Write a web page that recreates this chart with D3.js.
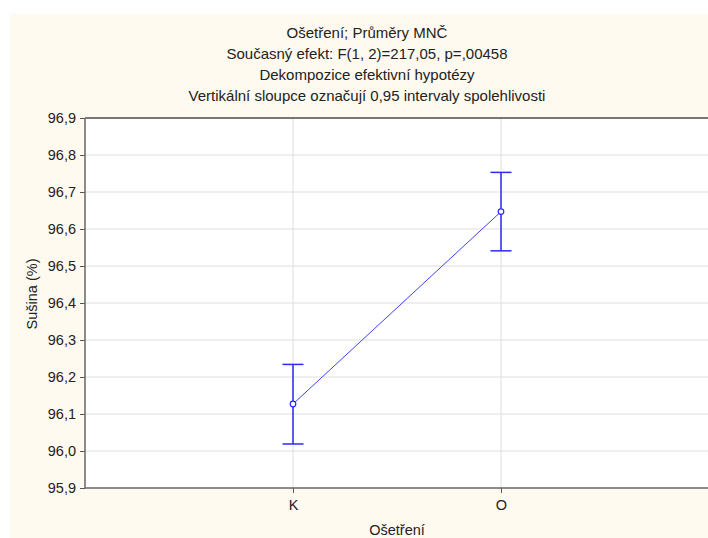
<!DOCTYPE html>
<html><head><meta charset="utf-8">
<script src="https://cdn.jsdelivr.net/npm/d3@7"></script>
<style>body{margin:0;background:#fff}svg{display:block}text{font-family:"Liberation Sans",Arial,sans-serif;fill:#222}</style>
</head><body><svg id="c" width="708" height="538"></svg>
<script>
const categories = ["K", "O"];
const means = [96.127, 96.647];
const ciLow = [96.019, 96.541];
const ciHigh = [96.234, 96.753];
const yTicks = [95.9, 96.0, 96.1, 96.2, 96.3, 96.4, 96.5, 96.6, 96.7, 96.8, 96.9];
const titles = ["Ošetření; Průměry MNČ", "Současný efekt: F(1, 2)=217,05, p=,00458", "Dekompozice efektivní hypotézy", "Vertikální sloupce označují 0,95 intervaly spolehlivosti"];
const xLabel = "Ošetření";
const yLabel = "Sušina (%)";

const svg = d3.select("#c");
const L = 85, R = 709, T = 118, B = 488;
const FS = 14.5;
svg.append("rect").attr("x",10).attr("y",14).attr("width",698).attr("height",524).attr("fill","#fffaef");
svg.append("rect").attr("x",L).attr("y",T).attr("width",R-L).attr("height",B-T).attr("fill","#fff");

const x = d3.scalePoint().domain(categories).range([L, R]).padding(1);
const y = d3.scaleLinear().domain([95.9, 96.9]).range([B, T]);
const fmt = d => d3.format(".1f")(d).replace(".", ",");

// gridlines
svg.append("g").selectAll("line").data(yTicks.slice(1, -1)).join("line")
  .attr("x1", L).attr("x2", R).attr("y1", d => y(d)).attr("y2", d => y(d))
  .attr("stroke", "#dedede").attr("stroke-width", 1);
svg.append("g").selectAll("line").data(categories).join("line")
  .attr("x1", d => x(d)).attr("x2", d => x(d)).attr("y1", T).attr("y2", B)
  .attr("stroke", "#dedede").attr("stroke-width", 1);

// axes
const yAxis = svg.append("g").attr("transform", `translate(${L},0)`)
  .call(d3.axisLeft(y).tickValues(yTicks).tickFormat(fmt).tickSize(5).tickPadding(4));
const xAxis = svg.append("g").attr("transform", `translate(0,${B})`)
  .call(d3.axisBottom(x).tickSize(5).tickPadding(7));
[yAxis, xAxis].forEach(g => {
  g.select(".domain").remove();
  g.selectAll("line").attr("stroke", "#555");
  g.selectAll("text").attr("font-size", FS).attr("fill", "#222").style("font-family", '"Liberation Sans",Arial,sans-serif');
});
// frame
svg.append("line").attr("x1",L).attr("x2",L).attr("y1",T).attr("y2",B).attr("stroke","#666").attr("stroke-width",1.5);
svg.append("line").attr("x1",L).attr("x2",R).attr("y1",T).attr("y2",T).attr("stroke","#777").attr("stroke-width",2);
svg.append("line").attr("x1",L).attr("x2",R).attr("y1",B).attr("y2",B).attr("stroke","#666").attr("stroke-width",1.5);

// line
const line = d3.line().x((d, i) => x(categories[i])).y(d => y(d));
svg.append("path").attr("d", line(means)).attr("fill", "none").attr("stroke", "#4040ff").attr("stroke-width", 1);
// error bars
const eb = svg.append("g").attr("stroke", "#2a2aff").attr("stroke-width", 1.5);
categories.forEach((c, i) => {
  eb.append("line").attr("x1", x(c)).attr("x2", x(c)).attr("y1", y(ciLow[i])).attr("y2", y(ciHigh[i]));
  eb.append("line").attr("x1", x(c) - 10.5).attr("x2", x(c) + 10.5).attr("y1", y(ciLow[i])).attr("y2", y(ciLow[i]));
  eb.append("line").attr("x1", x(c) - 10.5).attr("x2", x(c) + 10.5).attr("y1", y(ciHigh[i])).attr("y2", y(ciHigh[i]));
});
svg.append("g").selectAll("circle").data(means).join("circle")
  .attr("cx", (d, i) => x(categories[i])).attr("cy", d => y(d)).attr("r", 2.8)
  .attr("fill", "#fff").attr("stroke", "#2a2aff").attr("stroke-width", 1.2);

// titles
svg.append("g").selectAll("text").data(titles).join("text")
  .attr("x", 367).attr("y", (d, i) => 38 + i * 21).attr("text-anchor", "middle")
  .attr("font-size", 15).text(d => d);
svg.append("text").attr("x", (L + R) / 2).attr("y", 535).attr("text-anchor", "middle").attr("font-size", FS).text(xLabel);
svg.append("text").attr("transform", `translate(37,294) rotate(-90)`).attr("text-anchor", "middle").attr("font-size", FS).text(yLabel);
</script></body></html>
